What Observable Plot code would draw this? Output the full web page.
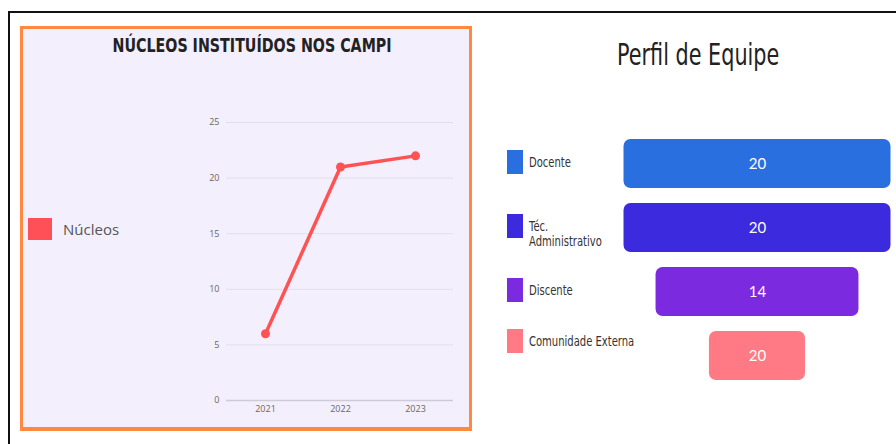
<!DOCTYPE html>
<html>
<head>
<meta charset="utf-8">
<script src="https://cdn.jsdelivr.net/npm/d3@7"></script>
<script src="https://cdn.jsdelivr.net/npm/@observablehq/plot@0.6"></script>
<style>
  html, body { margin: 0; padding: 0; background: #fff; }
  #root { position: relative; width: 896px; height: 444px; overflow: hidden; background: #fff; }
  .abs { position: absolute; }
  #frameTop { left: 8px; top: 11px; width: 888px; height: 2px; background: #111; }
  #frameLeft { left: 8px; top: 11px; width: 2px; height: 433px; background: #111; }
  #panel { left: 20px; top: 26px; width: 446px; height: 398px; background: #f4effd;
           border: 3px solid #ff8a3f; border-bottom-width: 4px; }
  #leftTitle { left: 26px; top: 34px; width: 452px; text-align: center;
               font-family: "DejaVu Sans", sans-serif;
               font-weight: bold; font-size: 19px; color: #222; }
  #leftTitle span { display: inline-block; transform: scaleX(0.75); transform-origin: center; }
  #leftLegend { left: 28px; top: 218px; display: flex; align-items: center;
                font-family: "Open Sans", sans-serif; font-size: 15px; color: #555; }
  #leftLegend .sw { width: 24px; height: 22px; background: #ff5058; margin-right: 11px; }
  #rightTitle { left: 480px; top: 36px; width: 436px; text-align: center;
                font-family: "DejaVu Sans", sans-serif;
                font-size: 31px; color: #222; }
  #rightTitle span { display: inline-block; transform: scaleX(0.67); transform-origin: center; }
  .rl { position: absolute; left: 507px; display: flex; align-items: center;
        font-family: "DejaVu Sans", sans-serif;
        font-size: 14.5px; color: #333; line-height: 15px; }
  .rl .sw { width: 16px; height: 24px; margin-right: 6px; flex: none; }
  .rl span { display: inline-block; transform: scaleX(0.69); transform-origin: left center; white-space: pre; }
</style>
</head>
<body>
<div id="root">
  <div id="frameTop" class="abs"></div>
  <div id="frameLeft" class="abs"></div>
  <div id="panel" class="abs"></div>
  <div id="leftTitle" class="abs"><span>NÚCLEOS INSTITUÍDOS NOS CAMPI</span></div>
  <div id="leftLegend" class="abs"><div class="sw"></div><span>Núcleos</span></div>
  <div id="lineChart" class="abs" style="left:180px; top:100px;"></div>
  <div id="rightTitle" class="abs"><span>Perfil de Equipe</span></div>
  <div id="rightLegend"></div>
  <div id="funnel" class="abs" style="left:480px; top:120px;"></div>
</div>
<script>
// ---- Data: Núcleos instituídos nos campi ----
const anos = ["2021", "2022", "2023"];
const nucleos = [6, 21, 22];
const yTicks = [0, 5, 10, 15, 20, 25];

// ---- Data: Perfil de Equipe ----
const categorias = ["Docente", "Téc. Administrativo", "Discente", "Comunidade Externa"];
const rotulosLegenda = ["Docente", "Téc.\nAdministrativo", "Discente", "Comunidade Externa"];
const valores = [20, 20, 14, 20];
const larguraFunil = [20, 20, 15.2, 7.2];   // funnel stage widths
const cores = ["#2a6fe0", "#3c2ade", "#7b2ae0", "#ff7a84"];

// ---------- Line chart ----------
const lineData = anos.map((a, i) => ({ano: a, valor: nucleos[i]}));
const line = Plot.plot({
  width: 290, height: 330,
  marginTop: 22, marginBottom: 30, marginLeft: 46, marginRight: 17,
  style: {background: "transparent", fontFamily: "Open Sans, sans-serif", fontSize: "9px", color: "#666"},
  x: {type: "point", domain: anos, padding: 0.5, label: null},
  y: {domain: [0, 25], label: null},
  marks: [
    Plot.ruleY(yTicks.filter(t => t > 0), {stroke: "#e3dfea", strokeWidth: 1}),
    Plot.ruleY([0], {stroke: "#cfcad8", strokeWidth: 1.5}),
    Plot.axisY({ticks: yTicks, tickSize: 0, tickPadding: 7, fill: "#666"}),
    Plot.axisX({tickSize: 0, tickPadding: 5, fill: "#666"}),
    Plot.line(lineData, {x: "ano", y: "valor", stroke: "#ff5252", strokeWidth: 3.5}),
    Plot.dot(lineData, {x: "ano", y: "valor", r: 4.5, fill: "#ff5252"})
  ]
});
document.getElementById("lineChart").appendChild(line);

// ---------- Funnel ----------
const funnelData = categorias.map((c, i) => ({cat: c, valor: valores[i], largura: larguraFunil[i], cor: cores[i]}));
const funnel = Plot.plot({
  width: 416, height: 290,
  marginTop: 3, marginBottom: 13, marginLeft: 0, marginRight: 0,
  style: {background: "transparent"},
  x: {domain: [-10, 10], range: [143.5, 410.5], axis: null},
  y: {domain: categorias, padding: 0.228, axis: null},
  marks: [
    Plot.barX(funnelData, {y: "cat", x1: d => -d.largura / 2, x2: d => d.largura / 2, fill: "cor", rx: 7}),
    Plot.text(funnelData, {y: "cat", x: 0, text: d => String(d.valor), fill: "white",
      fontSize: 15, fontFamily: "Lato, sans-serif"})
  ]
});
document.getElementById("funnel").appendChild(funnel);

// ---------- Right legend ----------
const legendTops = [150, 214, 278, 329];
const rl = document.getElementById("rightLegend");
categorias.forEach((c, i) => {
  const item = document.createElement("div");
  item.className = "rl";
  item.style.top = legendTops[i] + "px";
  item.style.alignItems = i === 1 ? "flex-start" : "center";
  const sw = document.createElement("div");
  sw.className = "sw";
  sw.style.background = cores[i];
  const t = document.createElement("span");
  t.style.paddingTop = i === 1 ? "5px" : "0";
  t.textContent = rotulosLegenda[i];
  item.appendChild(sw);
  item.appendChild(t);
  rl.appendChild(item);
});
</script>
</body>
</html>
